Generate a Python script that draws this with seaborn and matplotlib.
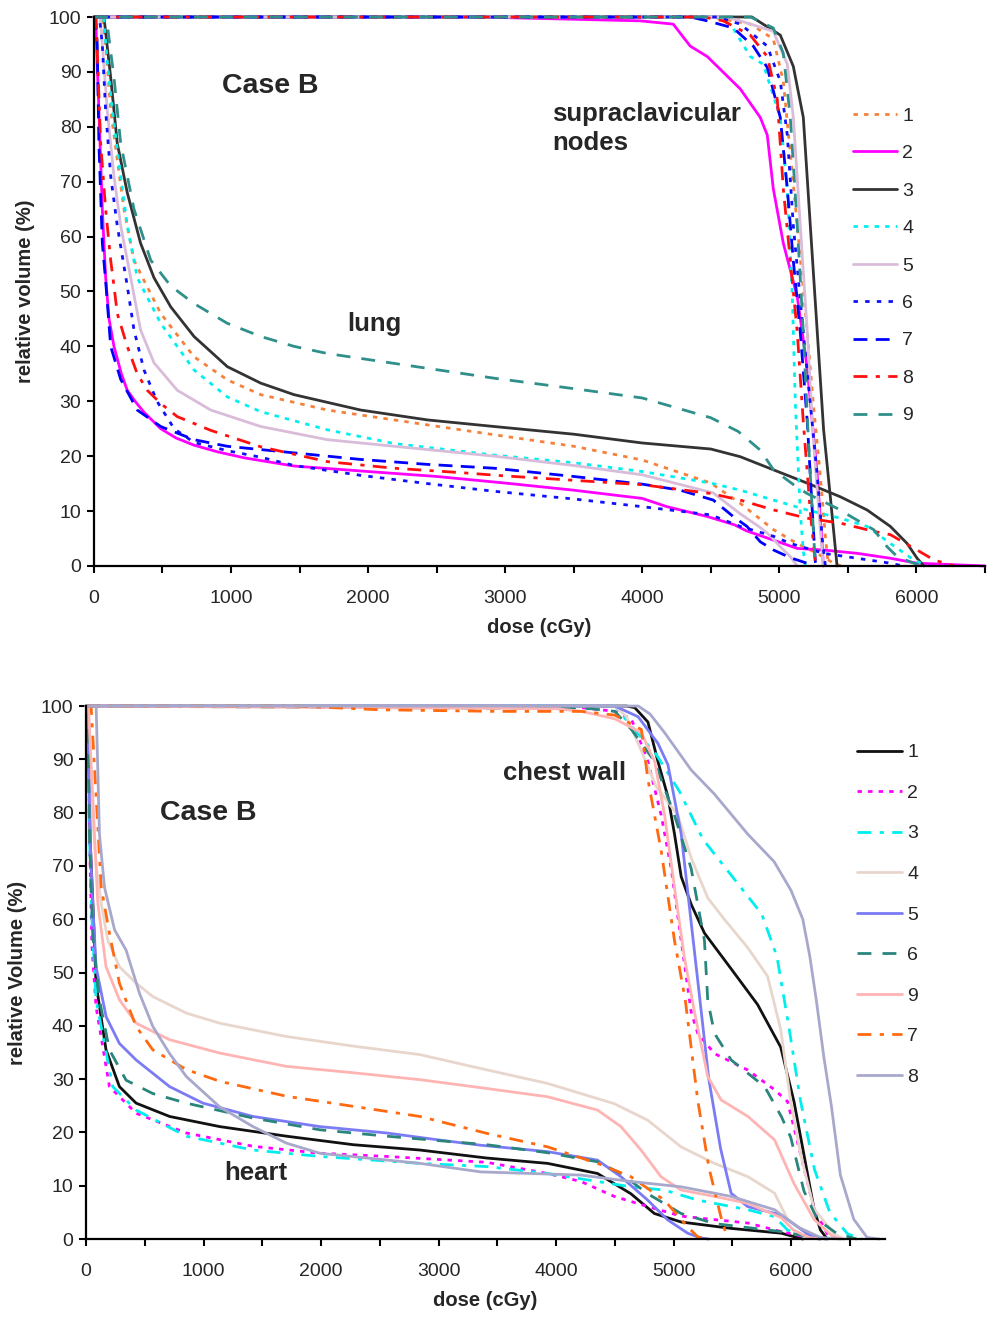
import numpy as np
import pandas as pd
import matplotlib
matplotlib.use("Agg")
import matplotlib.pyplot as plt
from matplotlib.ticker import MultipleLocator
import seaborn as sns

# ---------------- TOP PANEL: lung + supraclavicular nodes (dose cGy, volume %) -------------
lung_1 = [(0,100),(60,100),(85,95),(122,83),(170,74),(219,65),(292,55.7),(365,52),(487,46),(730,38.1),(973,33.9),(1217,31.2),(1460,29.8),(1703,28.4),(2190,26.6),(2920,23.9),(3500,21.8),(4000,19.3),(4500,15.1),(4715,11.4),(4837,9),(4958,6.6),(5129,4.1),(5275,2.3),(5397,0.5),(5450,0)]
lung_2 = [(0,100),(12,100),(36,83),(61,65),(85,52.7),(110,45),(146,40),(200,35),(243,32),(300,30),(365,28),(487,25),(600,23.3),(730,22),(900,20.8),(1095,19.7),(1460,18.2),(2000,17.2),(2500,16.3),(3000,15.1),(3500,13.8),(4000,12.3),(4180,10.8),(4475,9),(4672,7.5),(4760,6.4),(4958,4.7),(5129,3.2),(5324,2.9),(5567,2.3),(5810,1.4),(6005,0.5),(6300,0.2),(6500,0)]
lung_3 = [(0,100),(73,100),(122,89),(170,77),(243,68),(340,58.8),(438,52.5),(560,47.2),(730,41.8),(973,36.3),(1217,33.3),(1460,31.2),(1946,28.4),(2433,26.6),(2920,25.4),(3500,24),(4000,22.4),(4500,21.3),(4715,19.9),(4958,17.5),(5202,15.1),(5445,12.6),(5640,10.2),(5810,7.2),(5932,4.1),(6005,1.4),(6054,0)]
lung_4 = [(0,100),(70,100),(97,92),(134,83),(195,71),(243,62),(316,52.5),(487,44.2),(730,35.7),(973,30.8),(1217,28.1),(1703,24.8),(2190,22.3),(2920,20.2),(3500,18.8),(4000,17.2),(4500,15.1),(4715,13.8),(4958,12),(5202,10.2),(5445,8.7),(5640,7.2),(5810,4.1),(5981,1.1),(6078,0)]
lung_5 = [(0,100),(45,100),(61,95),(97,83),(146,71),(195,62),(268,52.5),(340,43),(438,37),(608,32),(852,28.4),(1217,25.4),(1703,23),(2190,21.8),(2920,20),(3500,18.3),(4000,16.6),(4518,13.3),(4715,9.5),(4861,7),(4934,5.5),(5007,3.5),(5080,1.7),(5130,0)]
lung_6 = [(0,100),(40,100),(61,95),(85,83),(122,71),(170,62),(243,51),(292,43),(365,35.7),(460,30),(585,25),(730,22.5),(973,21),(1217,19.8),(1460,18.3),(1946,16.5),(2433,15),(2920,13.6),(3500,12.2),(4000,10.8),(4500,9.3),(4715,7.2),(4958,5.4),(5080,4.1),(5324,2.3),(5567,1.4),(5810,0.5),(5900,0)]
lung_7 = [(0,100),(10,100),(24,95),(36,77),(61,58.8),(85,52),(122,40),(195,34),(316,28.4),(487,25.4),(730,23),(973,21.8),(1460,20.6),(1946,19.4),(2433,18.5),(2920,17.8),(3500,16.3),(4000,14.9),(4277,13.8),(4518,12),(4664,9),(4764,7.2),(4861,4.4),(4958,2.9),(5080,1.5),(5202,0.5),(5250,0)]
lung_8 = [(0,100),(15,100),(49,77),(85,65),(122,55.7),(146,51),(170,46),(243,40),(316,35),(389,32),(487,29.6),(608,27.2),(852,24.7),(1217,21.7),(1703,19),(2190,17.8),(2676,17),(3000,16.4),(3500,15.6),(4000,14.8),(4500,13.2),(4715,12),(4958,10.2),(5202,8.7),(5445,7.8),(5689,6.3),(5810,5.7),(6005,2.9),(6127,1.1),(6273,0)]
lung_9 = [(0,100),(90,100),(146,89),(195,77),(292,65),(414,55.7),(560,51),(730,47.8),(973,44.2),(1217,41.8),(1460,40),(1703,38.7),(1946,37.8),(2433,36),(2920,34.2),(3500,32.3),(4000,30.6),(4500,27),(4700,24.5),(4861,21.1),(4958,17.5),(5104,14.8),(5202,13.2),(5421,10.5),(5543,8.7),(5689,6.6),(5786,3.5),(5860,1.7),(5981,0.5),(6050,0)]

supra_1 = [(0,100),(4500,100),(4790,98.7),(4956,96),(5029,88.3),(5080,75.2),(5131,62),(5204,42.5),(5248,29.5),(5299,16.4),(5336,5.3),(5358,0)]
supra_2 = [(0,100),(2800,100),(3985,99.3),(4226,98.7),(4350,94.7),(4474,92.8),(4715,86.9),(4861,81.7),(4912,78.5),(4956,68.7),(5029,58.8),(5131,49),(5204,36),(5277,16.4),(5314,3.3),(5321,0)]
supra_3 = [(0,100),(4800,100),(5007,96.7),(5102,91),(5175,81.7),(5226,62),(5277,42.5),(5323,24.8),(5372,12.6),(5421,0)]
supra_4 = [(0,100),(4550,100),(4650,98.5),(4788,92.8),(4883,91.4),(5007,81.7),(5058,68.7),(5095,49),(5117,29.5),(5153,9.8),(5175,2.7),(5190,0)]
supra_5 = [(0,100),(4600,100),(4715,99.3),(4956,97.4),(5058,91.4),(5102,81.7),(5153,62),(5204,42.5),(5248,23),(5299,6.6),(5321,0)]
supra_6 = [(0,100),(4550,100),(4715,98.7),(4912,94.7),(5007,88.3),(5058,78.5),(5102,62),(5175,42.5),(5226,29.5),(5277,16.4),(5314,4.7),(5336,0)]
supra_7 = [(0,100),(4350,100),(4474,99.3),(4664,98),(4810,94.7),(4912,90.8),(5007,81.7),(5058,68.7),(5102,55.6),(5153,42.5),(5204,26.2),(5241,9.8),(5263,0.7),(5270,0)]
supra_8 = [(0,100),(4450,100),(4591,99.3),(4788,96.7),(4912,92.8),(4985,85),(5029,68.7),(5080,55.6),(5131,42.5),(5175,26.2),(5226,9.8),(5263,0.7),(5270,0)]
supra_9 = [(0,100),(4790,100),(4956,98),(5029,93.4),(5080,81.7),(5131,62),(5175,42.5),(5212,23),(5241,9.8),(5263,0)]

top_plans = ["1", "2", "3", "4", "5", "6", "7", "8", "9"]
top_colors = ["#f5813c", "#ff00ff", "#333333", "#00f0f0", "#d9bcd9", "#1010ff", "#0000ff", "#ff1010", "#2f8f8a"]
top_dashes = [(1.6, 2.2), "", "", (1.6, 2.2), "", (1.6, 2.6), (5, 3), (5, 3, 1.5, 3), (5, 4)]

# ---------------- BOTTOM PANEL: heart + chest wall -------------
heart_1 = [(0,100),(14,100),(35,75),(60,62),(85,48),(170,35.5),(284,28.6),(426,25.5),(711,23),(1137,21.1),(1705,19.3),(2274,17.7),(2842,16.7),(3410,15.2),(3927,14.2),(4353,12.3),(4637,8.5),(4836,4.8),(5064,3.2),(5490,2),(5917,1.1),(6100,0)]
heart_2 = [(0,100),(20,100),(30,75),(50,55),(85,43.6),(199,28.6),(426,23.6),(853,19.9),(1421,17.4),(1989,16.1),(2558,15.5),(3410,14.4),(3927,12.3),(4212,10.8),(4495,8),(4780,6.1),(5064,4.3),(5633,3),(5917,1.4),(6140,0.3),(6250,0)]
heart_3 = [(0,100),(14,100),(30,75),(50,60),(85,44.9),(227,28.6),(426,24.2),(853,19.3),(1421,16.7),(1989,15.5),(2842,14.2),(3410,13.6),(3927,12.3),(4353,10.8),(4637,9.8),(4921,9.2),(5206,7.3),(5633,5.5),(5860,4.2),(5970,1.7),(6140,0.3),(6250,0)]
heart_4 = [(0,100),(20,100),(43,83),(86,70),(129,63),(186,56),(284,51.1),(426,48),(568,45.5),(853,42.4),(1137,40.5),(1705,38),(2274,36.2),(2842,34.6),(3359,32),(3927,29.2),(4495,25.4),(4780,22.3),(5064,17.3),(5348,14.2),(5633,11.7),(5860,8.6),(5970,3.7),(6140,1),(6250,0)]
heart_5 = [(0,100),(15,100),(35,75),(57,63),(85,51.1),(171,41.7),(284,36.7),(426,33.6),(711,28.6),(995,25.5),(1421,23),(1989,21.1),(2558,19.9),(3000,18.6),(3359,17.6),(3927,16.4),(4353,14.8),(4552,11.7),(4780,7.3),(4950,3.6),(5120,1.1),(5234,0.2),(5300,0)]
heart_6 = [(0,100),(15,100),(30,75),(57,57),(114,44.9),(199,35.5),(341,29.8),(568,27.3),(853,25.5),(1421,22.7),(1989,20.5),(2558,19.3),(3410,17.7),(3927,16.2),(4353,14.5),(4552,12.3),(4780,8.5),(5064,4.8),(5348,2.9),(5917,1.4),(6195,0.3),(6300,0)]
heart_9 = [(0,100),(20,100),(57,83),(100,63),(170,51.1),(284,44.9),(426,40.5),(711,37.4),(1137,34.9),(1705,32.4),(2274,31.2),(2842,29.9),(3359,28.4),(3927,26.7),(4353,24.2),(4552,21.1),(4723,16.7),(4893,11.7),(5064,9.2),(5348,8),(5633,6.7),(5917,4),(6020,1.7),(6150,0.3),(6250,0)]
heart_7 = [(0,100),(43,100),(86,83),(129,66),(199,57.4),(284,48),(426,39.9),(568,35.5),(853,31.8),(1137,29.6),(1705,26.8),(2274,24.9),(2842,23),(3416,19.8),(3927,17.3),(4353,14.2),(4637,11.7),(4921,7.3),(5120,2.3),(5206,0.4),(5300,0)]
heart_8 = [(0,100),(86,100),(114,76),(157,66),(243,58),(341,54.2),(455,46.1),(568,39.9),(711,34.8),(853,30.5),(1137,24.8),(1421,21.1),(1705,18),(1989,16.1),(2842,14.2),(3359,12.6),(4212,12),(4637,10.8),(5064,9.8),(5490,8),(5860,5.5),(6054,2.3),(6250,0.3),(6420,0)]

chest_1 = [(0,100),(4600,100),(4670,99.7),(4782,97),(4867,89.6),(4952,83),(5008,76),(5065,68),(5150,62.8),(5263,57.4),(5490,50.7),(5715,44),(5912,36),(6025,25.8),(6110,15.8),(6195,5.7),(6250,1.7),(6308,0)]
chest_2 = [(0,100),(4218,99.7),(4500,99),(4641,97.6),(4782,89.6),(4895,79.5),(4980,69.5),(5065,56),(5150,42.6),(5206,38.6),(5348,34.8),(5633,31.7),(5860,28),(5970,25.8),(6082,15.8),(6195,5.7),(6308,1),(6400,0)]
chest_3 = [(0,100),(4500,100),(4650,96),(4850,91),(5050,84),(5250,75),(5500,68),(5750,61),(5880,53),(5980,40),(6080,26),(6200,13),(6330,5),(6480,1),(6600,0)]
chest_4 = [(0,100),(4500,100),(4600,98),(4726,91.6),(4850,85),(5037,79.5),(5150,71.5),(5291,64),(5432,60),(5630,54.7),(5800,49.3),(5912,39.3),(5997,25.8),(6082,15.8),(6195,5.7),(6364,1),(6450,0)]
chest_5 = [(0,100),(4500,100),(4698,98),(4867,93),(4952,89),(5065,76),(5150,59.4),(5234,43),(5300,30),(5400,17),(5490,8.6),(5630,6.1),(5917,4.5),(6138,1),(6250,0)]
chest_6 = [(0,100),(4300,99.5),(4500,99),(4641,95.6),(4839,89.6),(5008,79.5),(5150,69.5),(5263,56),(5291,44.8),(5348,38.6),(5490,33.6),(5775,28.6),(5917,23),(5997,19.1),(6110,9),(6223,3.7),(6392,1),(6560,0)]
chest_9 = [(0,100),(4000,99.5),(4218,99),(4500,97.6),(4726,95),(4839,89.6),(4924,79.5),(5008,66),(5093,52.7),(5178,42.6),(5291,30.5),(5405,26.1),(5633,23),(5860,18.6),(6025,10.4),(6195,3.7),(6364,0.3),(6450,0)]
chest_7 = [(0,100),(1800,100),(2500,99.3),(3500,99),(4218,99),(4500,98.3),(4726,95.6),(4782,86.2),(4895,72.8),(5008,56),(5100,44.8),(5206,26),(5300,13.5),(5405,4),(5460,0)]
chest_8 = [(0,100),(4700,100),(4800,98.5),(4924,95),(5150,88),(5347,83.5),(5630,76),(5856,70.8),(6000,65.4),(6100,60),(6160,53),(6215,44.8),(6280,34),(6343,25),(6420,12),(6534,3.7),(6647,0.3),(6750,0)]

bot_plans = ["1", "2", "3", "4", "5", "6", "9", "7", "8"]
bot_colors = ["#111111", "#ff00ff", "#00eeee", "#e8d6cc", "#7b7bf5", "#2a857c", "#ffb4b4", "#ff6a10", "#a8a8cc"]
bot_dashes = ["", (1.6, 2.2), (5, 3, 1.5, 3), "", "", (5, 4), "", (5, 3, 1.5, 3), ""]

# ---------------- build long-form tables -------------
def build(curves):
    rows = []
    for struct, plan, pts in curves:
        for d, v in pts:
            rows.append((struct + "_" + plan, plan, d, v))
    return pd.DataFrame(rows, columns=["unit", "plan", "dose", "volume"])

top_curves = [("lung", p, globals()["lung_" + p]) for p in top_plans] + \
             [("supra", p, globals()["supra_" + p]) for p in top_plans]
bot_curves = [("heart", p, globals()["heart_" + p]) for p in bot_plans] + \
             [("chest", p, globals()["chest_" + p]) for p in bot_plans]
df_top = build(top_curves)
df_bot = build(bot_curves)

sns.set_style("ticks")
plt.rcParams["font.family"] = ["Liberation Sans", "DejaVu Sans"]

fig = plt.figure(figsize=(9.89, 13.18), dpi=100)
ax1 = fig.add_axes([0.0950, 0.5706, 0.9009, 0.4165])
ax2 = fig.add_axes([0.0870, 0.0599, 0.8079, 0.4044])

def draw(ax, df, plans, colors, dashes, xmax):
    sns.lineplot(data=df, x="dose", y="volume", hue="plan", style="plan",
                 units="unit", estimator=None, sort=False,
                 hue_order=plans, style_order=plans,
                 palette=dict(zip(plans, colors)), dashes=dict(zip(plans, dashes)),
                 lw=2.0, ax=ax, legend="full")
    for ln in ax.lines:
        ln.set_clip_on(False)
    ax.set_xlim(0, xmax)
    ax.set_ylim(0, 100)
    ax.xaxis.set_major_locator(MultipleLocator(1000))
    ax.xaxis.set_minor_locator(MultipleLocator(500))
    ax.yaxis.set_major_locator(MultipleLocator(10))
    ax.tick_params(which="both", direction="out", length=5, width=1.5, color="black",
                   labelsize=14)
    ax.tick_params(axis="x", which="both", pad=12)
    ax.tick_params(axis="y", pad=4)
    for s in ["left", "bottom"]:
        ax.spines[s].set_linewidth(1.6)
        ax.spines[s].set_color("black")
    sns.despine(ax=ax)
    ax.set_xlabel("dose (cGy)", fontsize=14.5, fontweight="bold", labelpad=8)

draw(ax1, df_top, top_plans, top_colors, top_dashes, 6500)
draw(ax2, df_bot, bot_plans, bot_colors, bot_dashes, 6800)
ax1.set_ylabel("relative volume (%)", fontsize=14.5, fontweight="bold", labelpad=10)
ax2.set_ylabel("relative Volume (%)", fontsize=14.5, fontweight="bold", labelpad=10)

sns.move_legend(ax1, loc="upper left", bbox_to_anchor=(0.862, 0.9187), bbox_transform=fig.transFigure,
                frameon=False, title=None, fontsize=14, handlelength=2.3, handletextpad=0.25,
                labelspacing=1.02, borderpad=0, borderaxespad=0)
sns.move_legend(ax2, loc="upper left", bbox_to_anchor=(0.867, 0.4357), bbox_transform=fig.transFigure,
                frameon=False, title=None, fontsize=14, handlelength=2.3, handletextpad=0.25,
                labelspacing=1.18, borderpad=0, borderaxespad=0)

ax1.text(934, 87.4, "Case B", fontsize=20.5, fontweight="bold", ha="left", va="center")
ax1.text(3343, 79.7, "supraclavicular\nnodes", fontsize=18.5, fontweight="bold", ha="left", va="center",
         linespacing=1.25)
ax1.text(1847, 44, "lung", fontsize=18.5, fontweight="bold", ha="left", va="center")
ax2.text(631, 79.9, "Case B", fontsize=20.5, fontweight="bold", ha="left", va="center")
ax2.text(3546, 87.4, "chest wall", fontsize=18.5, fontweight="bold", ha="left", va="center")
ax2.text(1176, 12.4, "heart", fontsize=18.5, fontweight="bold", ha="left", va="center")

fig.savefig("out.png", dpi=100)
